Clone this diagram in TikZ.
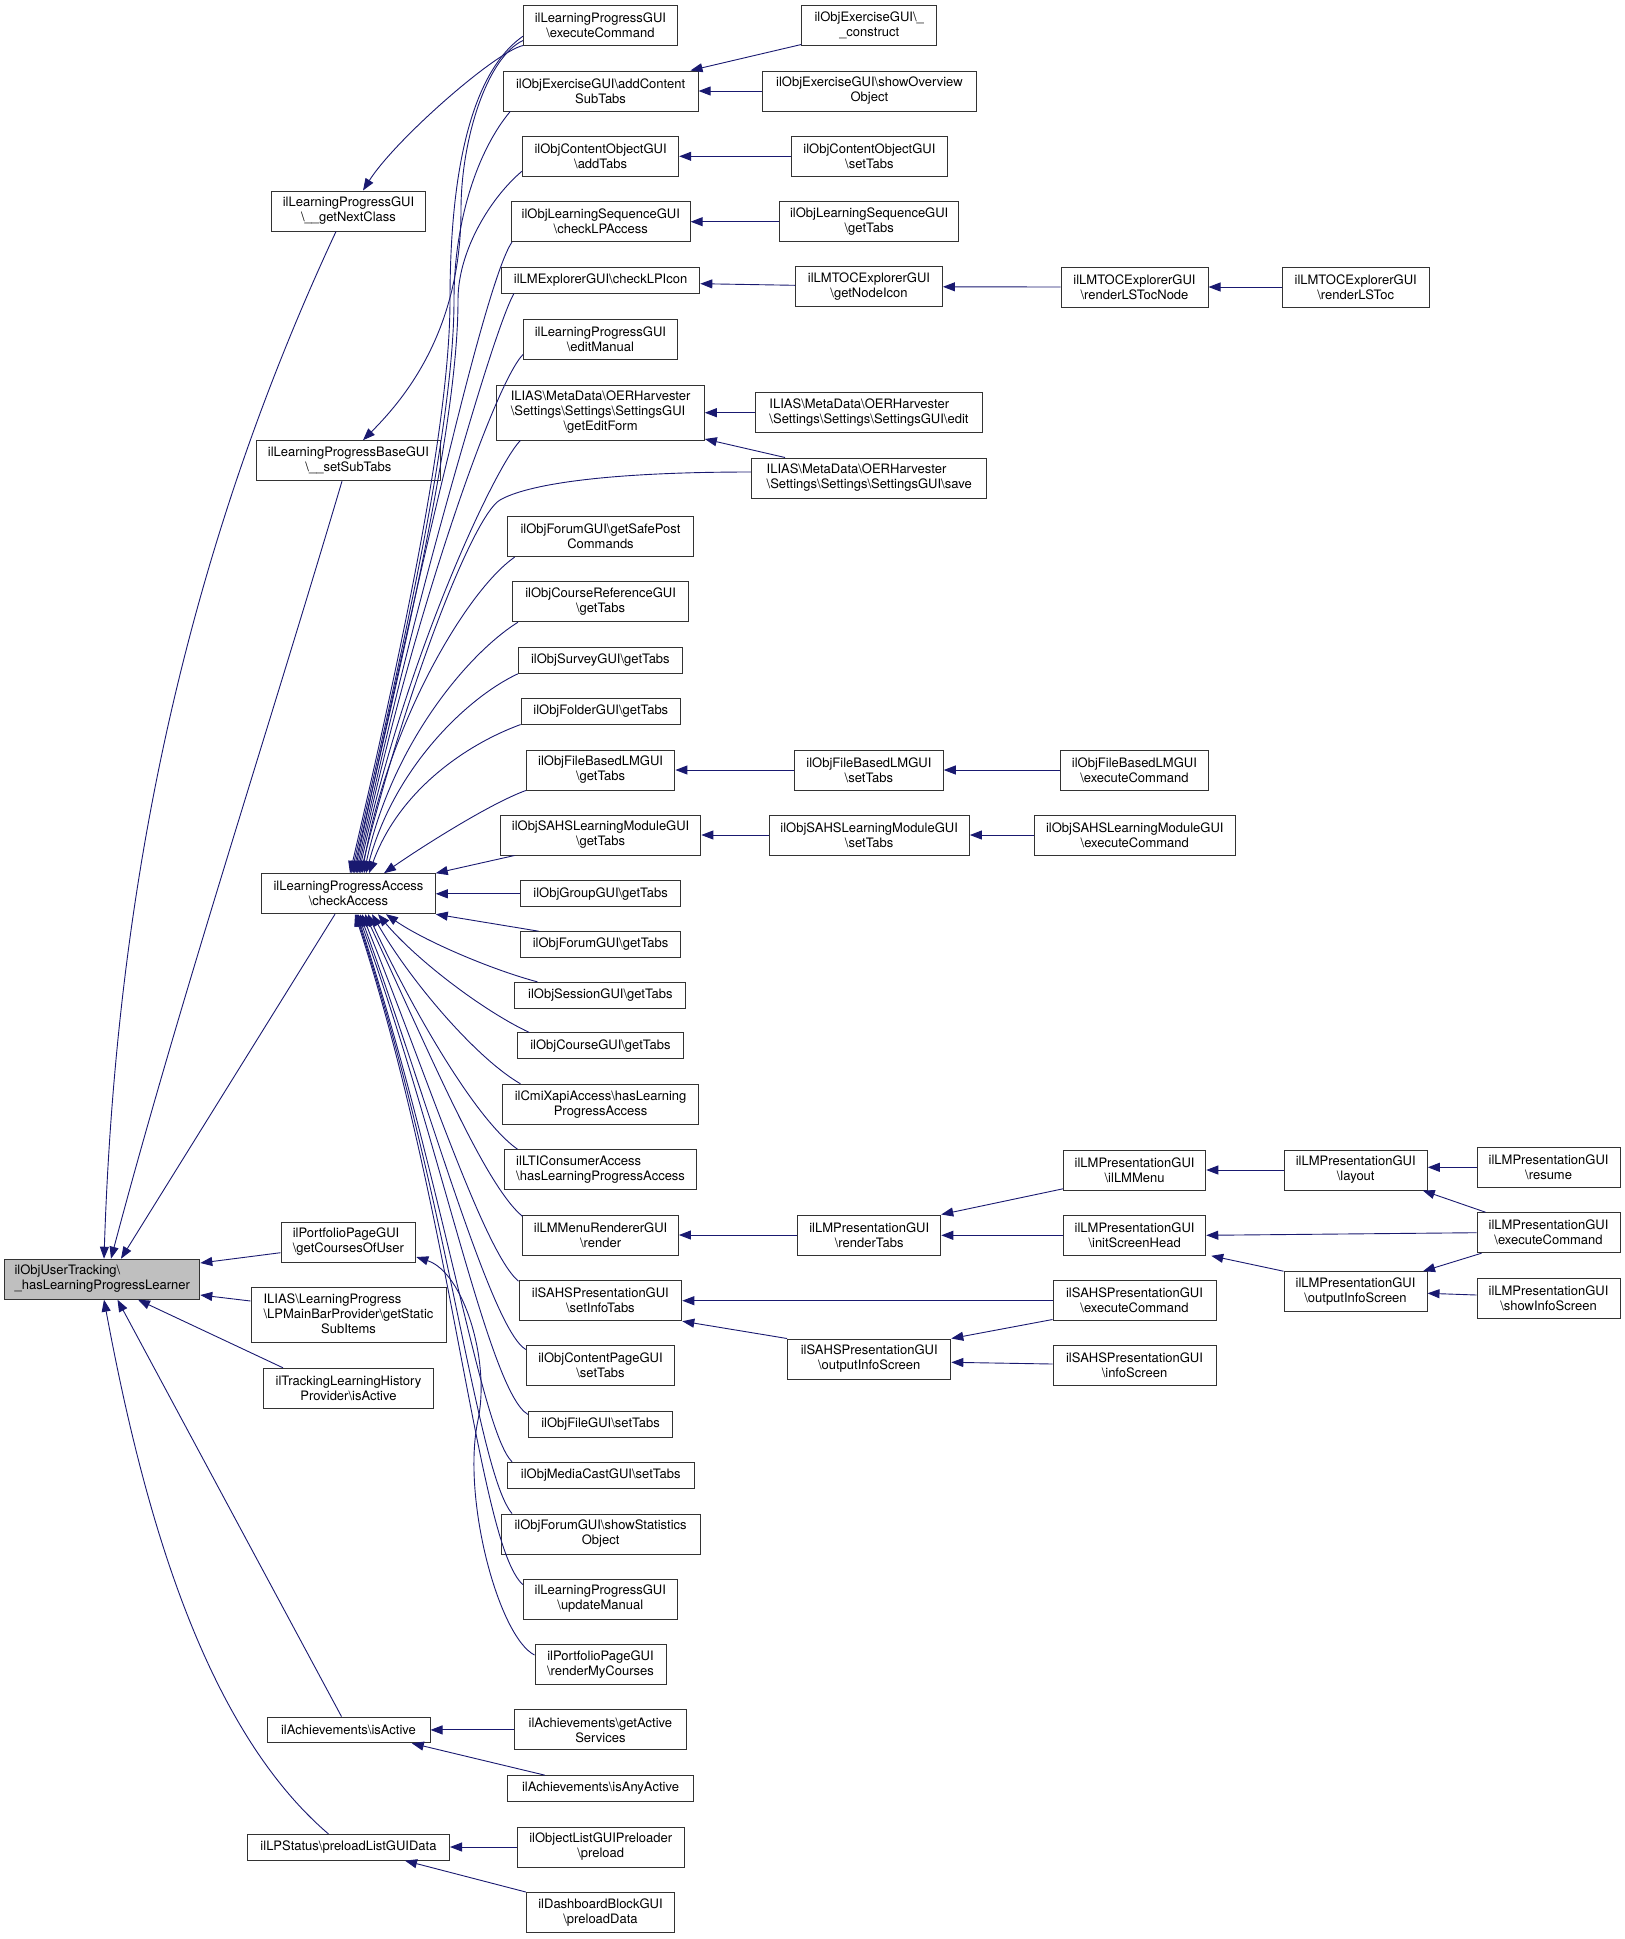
\documentclass[tikz,border=0pt]{standalone}
\usepackage{fontspec}
\setmainfont{TeX Gyre Heros}
\usetikzlibrary{arrows.meta}
\definecolor{navy}{RGB}{25,25,112}
\definecolor{nodegray}{RGB}{191,191,191}
\newcommand{\bsl}{\textbackslash}
\tikzset{
 box/.style={draw=black!80, line width=1pt, inner sep=0pt, align=center, font=\fontsize{13}{15}\selectfont},
 hA/.style={minimum height=25.7pt},
 hB/.style={minimum height=40pt},
 hC/.style={minimum height=55pt},
 edge/.style={draw=navy, line width=0.9pt, -{Triangle[length=12pt,width=9pt]}}
}
\begin{document}
\begin{tikzpicture}[x=1pt,y=1pt]
\useasboundingbox (0,0) rectangle (1625,-1939);
% ---------- column 1
\node[box,hB,minimum width=195pt,fill=nodegray] (main) at (102.3,-1279.2) {\begin{tabular}{@{}l@{}}ilObjUserTracking\bsl\\\_hasLearningProgressLearner\end{tabular}};
\node[box,hB,minimum width=153.5pt] (gnc) at (348.5,-211) {ilLearningProgressGUI\\\bsl\_\_getNextClass};
\node[box,hB,minimum width=183.2pt] (sst) at (348.4,-460.7) {ilLearningProgressBaseGUI\\\bsl\_\_setSubTabs};
\node[box,hB,minimum width=173.5pt] (ca) at (348.5,-893.7) {ilLearningProgressAccess\\\bsl{}checkAccess};
\node[box,hB,minimum width=134.8pt] (gcu) at (348.4,-1242) {\begin{tabular}{@{}l@{}}ilPortfolioPageGUI\\\bsl{}getCoursesOfUser\end{tabular}};
\node[box,hC,minimum width=195pt] (lpm) at (348.5,-1315) {\begin{tabular}{@{}l@{}}ILIAS\bsl{}LearningProgress\\\bsl{}LPMainBarProvider\bsl{}getStatic\\\multicolumn{1}{@{}c@{}}{SubItems}\end{tabular}};
\node[box,hB,minimum width=170pt] (tlh) at (348.5,-1388.3) {ilTrackingLearningHistory\\Provider\bsl{}isActive};
\node[box,hA,minimum width=163pt] (ach) at (348.5,-1729.9) {ilAchievements\bsl{}isActive};
\node[box,hA,minimum width=202pt] (lps) at (348.5,-1847.3) {ilLPStatus\bsl{}preloadListGUIData};
% ---------- column 2
\node[box,hB,minimum width=153.8pt] (ecLP) at (600.4,-25.7) {ilLearningProgressGUI\\\bsl{}executeCommand};
\node[box,hB,minimum width=195pt] (aCST) at (600.6,-91) {ilObjExerciseGUI\bsl{}addContent\\SubTabs};
\node[box,hB,minimum width=156.2pt] (cAT) at (600.6,-156.3) {ilObjContentObjectGUI\\\bsl{}addTabs};
\node[box,hB,minimum width=178.7pt] (lsCLP) at (600.8,-221.7) {ilObjLearningSequenceGUI\\\bsl{}checkLPAccess};
\node[box,hA,minimum width=198.4pt] (lmeI) at (600.6,-280.3) {ilLMExplorerGUI\bsl{}checkLPIcon};
\node[box,hB,minimum width=153.8pt] (eM) at (600.4,-339) {ilLearningProgressGUI\\\bsl{}editManual};
\node[box,hC,minimum width=207.4pt] (gEF) at (600.6,-412.5) {\begin{tabular}{@{}l@{}}ILIAS\bsl{}MetaData\bsl{}OERHarvester\\\bsl{}Settings\bsl{}Settings\bsl{}SettingsGUI\\\multicolumn{1}{@{}c@{}}{\bsl{}getEditForm}\end{tabular}};
\node[box,hB,minimum width=185.7pt] (gSP) at (600.5,-536.7) {ilObjForumGUI\bsl{}getSafePost\\Commands};
\node[box,hB,minimum width=175.6pt] (crT) at (600.6,-601.7) {ilObjCourseReferenceGUI\\\bsl{}getTabs};
\node[box,hA,minimum width=164.2pt] (svT) at (600.4,-660.5) {ilObjSurveyGUI\bsl{}getTabs};
\node[box,hA,minimum width=159.4pt] (fdT) at (600.8,-711.2) {ilObjFolderGUI\bsl{}getTabs};
\node[box,hB,minimum width=148.6pt] (fbT) at (600.6,-770) {ilObjFileBasedLMGUI\\\bsl{}getTabs};
\node[box,hB,minimum width=200.5pt] (shT) at (600.6,-835) {ilObjSAHSLearningModuleGUI\\\bsl{}getTabs};
\node[box,hA,minimum width=159.7pt] (grT) at (600.6,-893.8) {ilObjGroupGUI\bsl{}getTabs};
\node[box,hA,minimum width=160.4pt] (foT) at (600.6,-944.5) {ilObjForumGUI\bsl{}getTabs};
\node[box,hA,minimum width=171pt] (seT) at (600.4,-995.2) {ilObjSessionGUI\bsl{}getTabs};
\node[box,hA,minimum width=165.5pt] (coT) at (600.4,-1045.7) {ilObjCourseGUI\bsl{}getTabs};
\node[box,hB,minimum width=196.4pt] (cmi) at (600.6,-1104.3) {ilCmiXapiAccess\bsl{}hasLearning\\ProgressAccess};
\node[box,hB,minimum width=192.2pt] (lti) at (600.6,-1169.7) {\begin{tabular}{@{}l@{}}ilLTIConsumerAccess\\\bsl{}hasLearningProgressAccess\end{tabular}};
\node[box,hB,minimum width=155.6pt] (mr) at (600.6,-1235) {ilLMMenuRendererGUI\\\bsl{}render};
\node[box,hB,minimum width=162.8pt] (sit) at (600.4,-1300.7) {ilSAHSPresentationGUI\\\bsl{}setInfoTabs};
\node[box,hB,minimum width=148.3pt] (cp) at (600.5,-1365.7) {ilObjContentPageGUI\\\bsl{}setTabs};
\node[box,hA,minimum width=144.1pt] (fi) at (600.5,-1424.5) {ilObjFileGUI\bsl{}setTabs};
\node[box,hA,minimum width=187.3pt] (mc) at (600.7,-1475.2) {ilObjMediaCastGUI\bsl{}setTabs};
\node[box,hB,minimum width=199.2pt] (ss) at (600.6,-1534) {ilObjForumGUI\bsl{}showStatistics\\Object};
\node[box,hB,minimum width=154.1pt] (um) at (600.3,-1599) {ilLearningProgressGUI\\\bsl{}updateManual};
\node[box,hB,minimum width=131pt] (rmc) at (600.5,-1664.5) {ilPortfolioPageGUI\\\bsl{}renderMyCourses};
\node[box,hB,minimum width=171.8pt] (gas) at (600.4,-1729.9) {ilAchievements\bsl{}getActive\\Services};
\node[box,hA,minimum width=186.3pt] (iaa) at (600.5,-1788.5) {ilAchievements\bsl{}isAnyActive};
\node[box,hB,minimum width=167.3pt] (olp) at (600.7,-1847) {ilObjectListGUIPreloader\\\bsl{}preload};
\node[box,hB,minimum width=148.3pt] (dbp) at (600.5,-1912.5) {ilDashboardBlockGUI\\\bsl{}preloadData};
% ---------- column 3
\node[box,hB,minimum width=134.8pt] (exC) at (869.2,-25.7) {ilObjExerciseGUI\bsl\_\\\_construct};
\node[box,hB,minimum width=213.3pt] (sOO) at (869.4,-91) {ilObjExerciseGUI\bsl{}showOverview\\Object};
\node[box,hB,minimum width=155.9pt] (coS) at (869.4,-156.3) {ilObjContentObjectGUI\\\bsl{}setTabs};
\node[box,hB,minimum width=179pt] (lsG) at (869.2,-221.7) {ilObjLearningSequenceGUI\\\bsl{}getTabs};
\node[box,hB,minimum width=146.9pt] (gNI) at (869,-286.8) {ilLMTOCExplorerGUI\\\bsl{}getNodeIcon};
\node[box,hB,minimum width=227.1pt] (sEd) at (869,-412.7) {\begin{tabular}{@{}l@{}}ILIAS\bsl{}MetaData\bsl{}OERHarvester\\\bsl{}Settings\bsl{}Settings\bsl{}SettingsGUI\bsl{}edit\end{tabular}};
\node[box,hB,minimum width=235pt] (sSv) at (869.2,-478) {\begin{tabular}{@{}l@{}}ILIAS\bsl{}MetaData\bsl{}OERHarvester\\\bsl{}Settings\bsl{}Settings\bsl{}SettingsGUI\bsl{}save\end{tabular}};
\node[box,hB,minimum width=148.7pt] (fbS) at (868.9,-770) {ilObjFileBasedLMGUI\\\bsl{}setTabs};
\node[box,hB,minimum width=200.4pt] (shS) at (869.2,-835) {ilObjSAHSLearningModuleGUI\\\bsl{}setTabs};
\node[box,hB,minimum width=143.1pt] (rT) at (869.2,-1235) {ilLMPresentationGUI\\\bsl{}renderTabs};
\node[box,hB,minimum width=163.2pt] (sOI) at (869.2,-1359) {ilSAHSPresentationGUI\\\bsl{}outputInfoScreen};
% ---------- column 4
\node[box,hB,minimum width=147pt] (rLN) at (1134.5,-287) {ilLMTOCExplorerGUI\\\bsl{}renderLSTocNode};
\node[box,hB,minimum width=148.3pt] (fbE) at (1134.4,-770) {ilObjFileBasedLMGUI\\\bsl{}executeCommand};
\node[box,hB,minimum width=200.9pt] (shE) at (1134.8,-835) {ilObjSAHSLearningModuleGUI\\\bsl{}executeCommand};
\node[box,hB,minimum width=142.3pt] (lmM) at (1134.6,-1170) {ilLMPresentationGUI\\\bsl{}ilLMMenu};
\node[box,hB,minimum width=142.3pt] (iSH) at (1134.6,-1235.3) {ilLMPresentationGUI\\\bsl{}initScreenHead};
\node[box,hB,minimum width=163pt] (sEx) at (1134.5,-1300.7) {ilSAHSPresentationGUI\\\bsl{}executeCommand};
\node[box,hB,minimum width=163pt] (sIS) at (1134.5,-1365.7) {ilSAHSPresentationGUI\\\bsl{}infoScreen};
% ---------- column 5
\node[box,hB,minimum width=147pt] (rLT) at (1355.7,-287) {ilLMTOCExplorerGUI\\\bsl{}renderLSToc};
\node[box,hB,minimum width=143.1pt] (lay) at (1355.7,-1170) {ilLMPresentationGUI\\\bsl{}layout};
\node[box,hB,minimum width=143pt] (oIL) at (1355.5,-1291.7) {ilLMPresentationGUI\\\bsl{}outputInfoScreen};
% ---------- column 6
\node[box,hB,minimum width=143.1pt] (res) at (1548.6,-1167.3) {ilLMPresentationGUI\\\bsl{}resume};
\node[box,hB,minimum width=143pt] (eLM) at (1548.5,-1232.7) {ilLMPresentationGUI\\\bsl{}executeCommand};
\node[box,hB,minimum width=143pt] (sIn) at (1548.5,-1298) {ilLMPresentationGUI\\\bsl{}showInfoScreen};

% ================= edges into the main node
\draw[edge] ([xshift=-12.5pt]gnc.south) .. controls (173,-581) and (115,-922) .. ([xshift=1.7pt]main.north);
\draw[edge] ([xshift=-6.4pt]sst.south) .. controls (265,-741) and (180,-999) .. ([xshift=8.7pt]main.north);
\draw[edge] ([xshift=-13.5pt]ca.south) -- ([xshift=18.7pt]main.north);
\draw[edge] ([yshift=-10.7pt]gcu.west) -- ([yshift=16.2pt]main.east);
\draw[edge] ([yshift=14pt]lpm.west) -- ([yshift=-15.8pt]main.east);
\draw[edge] ([xshift=20pt]tlh.north west) -- ([xshift=35.7pt]main.south);
\draw[edge] ([xshift=-7pt]ach.north) -- ([xshift=15.2pt]main.south);
\draw[edge] ([xshift=-20pt]lps.north) .. controls (200,-1724) and (141,-1498.5) .. ([xshift=1.7pt]main.south);

% ================= executeCommand (LP GUI) to next class / sub tabs
\draw[edge] ([yshift=0.7pt]ecLP.south west) .. controls (495,-52) and (395,-140) .. ([xshift=14.5pt]gnc.north);
\draw[edge] ([yshift=5.7pt]ecLP.south west) .. controls +(205:40) and +(90:70) .. (461,-210) .. controls +(270:120) and +(45:60) .. ([xshift=14.6pt]sst.north);

% ================= edges into checkAccess from above
\draw[edge] ([yshift=10pt]ecLP.south west) .. controls +(215:70) and +(90:110) .. (450,-300) .. controls +(270:120) and +(77:250) .. ([xshift=1.5pt]ca.north);
\draw[edge] ([xshift=7.6pt]aCST.south west) .. controls +(230:50) and +(90:80) .. (454,-300) .. controls +(270:120) and +(77:250) .. ([xshift=3pt]ca.north);
\draw[edge] ([yshift=5.6pt]cAT.south west) .. controls +(220:40) and +(90:50) .. (458,-300) .. controls +(270:120) and +(77:250) .. ([xshift=4.5pt]ca.north);
\draw[edge] ([xshift=1pt]lsCLP.south west) .. controls +(235:45) and +(78:300) .. ([xshift=6pt]ca.north);
\draw[edge] ([xshift=13pt]lmeI.south west) .. controls +(240:40) and +(78:280) .. ([xshift=7.5pt]ca.north);
\draw[edge] ([yshift=5pt]eM.south west) .. controls +(225:40) and +(78:260) .. ([xshift=9pt]ca.north);
\draw[edge] ([xshift=24pt]gEF.south west) .. controls +(225:35) and +(78:220) .. ([xshift=10.5pt]ca.north);
\draw[edge] ([yshift=6pt]sSv.west) .. controls +(180:150) and +(30:30) .. (500,-500) .. controls +(210:30) and +(76:200) .. ([xshift=12pt]ca.north);
\draw[edge] ([xshift=7.4pt]gSP.south west) .. controls +(215:60) and +(80:150) .. ([xshift=13.5pt]ca.north);
\draw[edge] ([xshift=5.7pt]crT.south west) .. controls +(212:60) and +(78:130) .. ([xshift=15.5pt]ca.north);
\draw[edge] (svT.south west) .. controls +(205:55) and +(75:110) .. ([xshift=17.5pt]ca.north);
\draw[edge] (fdT.south west) .. controls +(200:55) and +(70:90) .. ([xshift=20.5pt]ca.north);
\draw[edge] (fbT.south west) .. controls +(200:40) and +(35:40) .. ([xshift=35.5pt]ca.north);
\draw[edge] ([xshift=14.6pt]shT.south west) -- (ca.north east);
\draw[edge] (grT.west) -- (grT.west -| ca.east);
\draw[edge] ([xshift=18.6pt]foT.north west) -- (ca.south east);

% ================= edges into checkAccess from below
\draw[edge] ([xshift=23pt]seT.north west) .. controls +(165:50) and +(325:45) .. ([xshift=37.5pt]ca.south);
\draw[edge] ([xshift=12pt]coT.north west) .. controls +(155:50) and +(310:60) .. ([xshift=29.5pt]ca.south);
\draw[edge] ([xshift=18.6pt]cmi.north west) .. controls +(150:50) and +(300:80) .. ([xshift=23.5pt]ca.south);
\draw[edge] ([xshift=13.5pt]lti.north west) .. controls +(145:50) and +(295:110) .. ([xshift=19.5pt]ca.south);
\draw[edge] ([yshift=-1.7pt]mr.north west) .. controls +(140:50) and +(295:150) .. ([xshift=16.5pt]ca.south);
\draw[edge] ([yshift=-1pt]sit.north west) .. controls +(140:45) and +(292:170) .. ([xshift=13.5pt]ca.south);
\draw[edge] ([yshift=-4.3pt]cp.north west) .. controls +(150:40) and +(290:200) .. ([xshift=11.5pt]ca.south);
\draw[edge] ([yshift=-3.3pt]fi.north west) .. controls +(150:45) and +(290:240) .. ([xshift=9.5pt]ca.south);
\draw[edge] ([xshift=5.5pt]mc.north west) .. controls +(135:45) and +(288:280) .. ([xshift=8.5pt]ca.south);
\draw[edge] ([xshift=11.5pt]ss.north west) .. controls +(130:55) and +(288:300) .. ([xshift=7.5pt]ca.south);
\draw[edge] ([yshift=-6pt]um.north west) .. controls +(138:60) and +(288:320) .. ([xshift=6.5pt]ca.south);

% ================= renderMyCourses -> getCoursesOfUser
\draw[edge] ([yshift=9.5pt]rmc.west) .. controls +(153:40) and +(258:80) .. (478,-1420) .. controls +(78:60) and +(342:50) .. ([yshift=-15pt]gcu.east);

% ================= right-hand edges
\draw[edge] (sOO.west) -- (aCST.east);
\draw[edge] ([yshift=1.7pt]exC.south west) -- ([xshift=-8.1pt]aCST.north east);
\draw[edge] (coS.west) -- (cAT.east);
\draw[edge] (lsG.west) -- (lsCLP.east);
\draw[edge] ([yshift=1.5pt]gNI.west) -- ([yshift=-3.4pt]lmeI.east);
\draw[edge] (rLN.west) -- (gNI.east);
\draw[edge] (rLT.west) -- (rLN.east);
\draw[edge] (sEd.west) -- (sEd.west -| gEF.east);
\draw[edge] ([xshift=33.8pt]sSv.north west) -- ([yshift=1.5pt]gEF.south east);
\draw[edge] (fbS.west) -- (fbT.east);
\draw[edge] (fbE.west) -- (fbS.east);
\draw[edge] (shS.west) -- (shT.east);
\draw[edge] (shE.west) -- (shS.east);
\draw[edge] (rT.west) -- (mr.east);
\draw[edge] ([yshift=1.7pt]lmM.south west) -- (rT.north east);
\draw[edge] (iSH.west) -- (iSH.west -| rT.east);
\draw[edge] (lay.west) -- (lmM.east);
\draw[edge] (res.west) -- (res.west -| lay.east);
\draw[edge] ([xshift=9pt]eLM.north west) -- ([xshift=-5pt]lay.south east);
\draw[edge] (eLM.west) -- (iSH.east);
\draw[edge] (oIL.north west) -- ([xshift=5pt]iSH.south east);
\draw[edge] ([xshift=5pt]eLM.south west) -- ([xshift=-4.5pt]oIL.north east);
\draw[edge] ([yshift=3pt]sIn.west) -- ([yshift=-1.6pt]oIL.east);
\draw[edge] (sEx.west) -- (sEx.west -| sit.east);
\draw[edge] (sOI.north west) -- (sit.south east);
\draw[edge] ([yshift=1.7pt]sEx.south west) -- (sOI.north east);
\draw[edge] ([yshift=1.7pt]sIS.west) -- ([yshift=-3.3pt]sOI.east);
\draw[edge] (gas.west) -- (ach.east);
\draw[edge] ([xshift=38pt]iaa.north west) -- ([xshift=-18.7pt]ach.south east);
\draw[edge] (olp.west) -- (olp.west -| lps.east);
\draw[edge] (dbp.north west) -- ([xshift=-45pt]lps.south east);
\end{tikzpicture}
\end{document}
